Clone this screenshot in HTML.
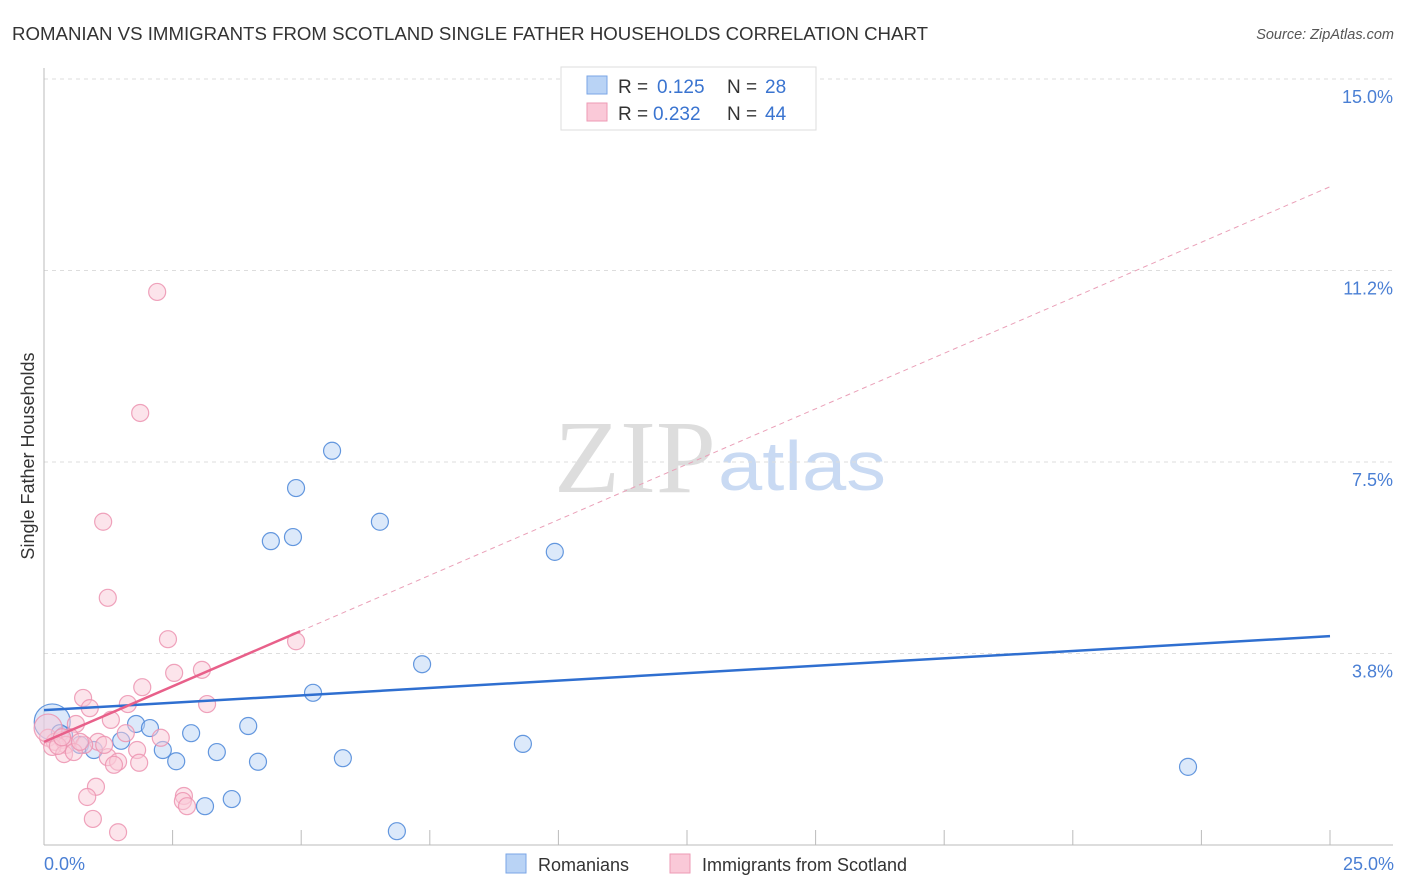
<!DOCTYPE html>
<html><head><meta charset="utf-8">
<style>
body{margin:0;background:#fff;font-family:"Liberation Sans",sans-serif;}
svg{display:block}
</style></head>
<body>
<svg id="chart" width="1406" height="892" viewBox="0 0 1406 892" xmlns="http://www.w3.org/2000/svg">
<text x="12" y="40" font-size="18" fill="#333" textLength="916" lengthAdjust="spacingAndGlyphs">ROMANIAN VS IMMIGRANTS FROM SCOTLAND SINGLE FATHER HOUSEHOLDS CORRELATION CHART</text>
<text x="1394" y="39" font-size="14.5" fill="#555" font-style="italic" text-anchor="end">Source: ZipAtlas.com</text>
<text x="554" y="492" font-size="104" fill="#ddd" font-family="Liberation Serif,serif" textLength="162" lengthAdjust="spacingAndGlyphs">ZIP</text>
<text x="718" y="490" font-size="70" fill="#c9daf3" textLength="168" lengthAdjust="spacingAndGlyphs">atlas</text>
<g id="grid"></g>
<g id="axes"></g>
<g id="marks"></g>
<text transform="translate(34,456) rotate(-90)" font-size="18" fill="#333" text-anchor="middle">Single Father Households</text>
<text x="44" y="870" font-size="18" fill="#4a7fd4">0.0%</text>
<text x="1394" y="870" font-size="18" fill="#4a7fd4" text-anchor="end">25.0%</text>
<g>
<rect x="561" y="67" width="255" height="63" fill="#fff" stroke="#ddd"/>
<rect x="587" y="76" width="20" height="18" fill="#b9d3f5" stroke="#7aa6e6"/>
<rect x="587" y="103" width="20" height="18" fill="#fac9d8" stroke="#ee9ab5"/>
<text x="618" y="93" font-size="19" fill="#333">R = </text><text x="657" y="93" font-size="19" fill="#3a74d0">0.125</text>
<text x="727" y="93" font-size="19" fill="#333">N = </text><text x="765" y="93" font-size="19" fill="#3a74d0">28</text>
<text x="618" y="120" font-size="19" fill="#333">R = </text><text x="653" y="120" font-size="19" fill="#3a74d0">0.232</text>
<text x="727" y="120" font-size="19" fill="#333">N = </text><text x="765" y="120" font-size="19" fill="#3a74d0">44</text>
</g>
<g>
<rect x="506" y="854" width="20" height="19" fill="#b9d3f5" stroke="#7aa6e6"/>
<text x="538" y="871" font-size="18" fill="#333">Romanians</text>
<rect x="670" y="854" width="20" height="19" fill="#fac9d8" stroke="#ee9ab5"/>
<text x="702" y="871" font-size="18" fill="#333">Immigrants from Scotland</text>
</g>
</svg>
<script>
const yTicks=[3.75,7.5,11.25,15];
const yTickLabels=["3.8%","7.5%","11.2%","15.0%"];
const blueX=[0.16,0.70,0.97,1.50,1.79,2.06,2.31,2.57,2.86,3.36,3.13,3.65,3.97,4.16,4.41,4.84,4.90,5.23,5.60,5.81,6.53,6.86,7.35,9.31,9.93,22.24,0.39,0.31];
const blueY=[2.41,1.96,1.86,2.04,2.37,2.29,1.86,1.64,2.19,1.82,0.76,0.90,2.33,1.63,5.95,6.03,6.99,2.98,7.72,1.70,6.33,0.27,3.54,1.98,5.74,1.53,2.15,2.19];
const pinkX=[2.20,1.87,1.15,1.24,2.41,4.90,3.07,2.53,1.91,0.76,1.63,3.17,0.89,1.30,0.62,1.59,2.27,0.08,0.21,0.37,0.51,1.05,0.78,0.43,0.16,1.81,1.24,1.44,1.85,1.36,0.39,0.58,1.01,0.84,2.72,2.70,2.78,0.95,1.44,0.08,0.27,1.17,0.35,0.70];
const pinkY=[10.83,8.46,6.33,4.84,4.03,3.99,3.43,3.37,3.09,2.88,2.76,2.76,2.68,2.45,2.37,2.19,2.10,2.10,2.02,2.06,2.11,2.02,1.96,1.96,1.92,1.86,1.72,1.63,1.61,1.57,1.78,1.82,1.14,0.94,0.96,0.86,0.76,0.51,0.25,2.29,1.94,1.96,2.11,2.02];
const blueTrend=[2.64,4.09];
const pinkTrend=[2.02,12.89];
const pinkSolidEnd=4.98;
const NS="http://www.w3.org/2000/svg";
const X0=44,X1=1330,Y0=845,YTOP=79;
const sx=v=>X0+(X1-X0)*v/25;
const sy=v=>Y0-(Y0-YTOP)*v/15;
function mk(tag,attrs,parent){const e=document.createElementNS(NS,tag);for(const k in attrs)e.setAttribute(k,attrs[k]);parent.appendChild(e);return e;}
const grid=document.getElementById('grid'),axes=document.getElementById('axes'),marks=document.getElementById('marks');
yTicks.forEach((t,i)=>{
  const l=mk('line',{x1:X0,x2:1393,y1:sy(t),y2:sy(t),stroke:'#ddd','stroke-dasharray':'4,4'},grid);
  
  
  const tx=mk('text',{x:1393,y:sy(t)+24,'font-size':18,fill:'#4a7fd4','text-anchor':'end'},grid);
  tx.textContent=yTickLabels[i];
  
  
});
let a=mk('line',{x1:X0,x2:X0,y1:68,y2:Y0,stroke:'#bbb'},axes);


a=mk('line',{x1:X0,x2:1393,y1:Y0,y2:Y0,stroke:'#bbb'},axes);


for(let i=1;i<=10;i++){
  const t=mk('line',{x1:sx(i*2.5),x2:sx(i*2.5),y1:830,y2:Y0,stroke:'#bbb'},axes);
  
  
}
function pt(x,y,r,fill,stroke,name){
  const c=mk('circle',{cx:sx(x),cy:sy(y),r:r,fill:fill,'fill-opacity':0.5,stroke:stroke,'stroke-opacity':0.85,'stroke-width':1.2},marks);
  
  
}
blueX.forEach((x,i)=>pt(x,blueY[i],i===0?18:8.5,'#b9d3f5','#4a86d8','point-romanian'));
pinkX.forEach((x,i)=>pt(x,pinkY[i],i===39?14:8.5,'#fac9d8','#ec93b0','point-scotland'));
let tl=mk('line',{x1:sx(0),y1:sy(blueTrend[0]),x2:sx(25),y2:sy(blueTrend[1]),stroke:'#2f6fd0','stroke-width':2.5},marks);


const pAt=v=>pinkTrend[0]+(pinkTrend[1]-pinkTrend[0])*v/25;
tl=mk('line',{x1:sx(pinkSolidEnd),y1:sy(pAt(pinkSolidEnd)),x2:sx(25),y2:sy(pinkTrend[1]),stroke:'#eaa0b8','stroke-width':1,'stroke-dasharray':'5,4'},marks);


tl=mk('line',{x1:sx(0),y1:sy(pinkTrend[0]),x2:sx(pinkSolidEnd),y2:sy(pAt(pinkSolidEnd)),stroke:'#e8608a','stroke-width':2.5},marks);


</script>
</body></html>
